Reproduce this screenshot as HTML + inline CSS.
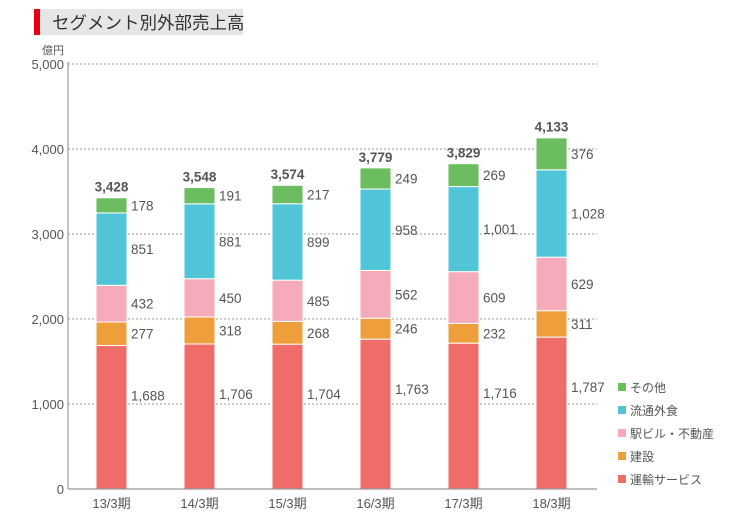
<!DOCTYPE html>
<html><head><meta charset="utf-8"><style>
body{margin:0;background:#fff;width:745px;height:514px;overflow:hidden;font-family:"Liberation Sans","Noto Sans CJK JP",sans-serif}
</style></head><body>
<svg width="745" height="514" xmlns="http://www.w3.org/2000/svg" font-family="Liberation Sans, Noto Sans CJK JP, sans-serif">
<g>
<rect x="34" y="9" width="6" height="26" fill="#e60012"/>
<rect x="40" y="9" width="203" height="26" fill="#e6e6e7"/>
<text x="52" y="29" font-size="17.5" fill="#333">セグメント別外部売上高</text>
</g>
<text x="42" y="54" font-size="11" fill="#555">億円</text>
<g id="grid"></g><g id="bars"></g><g id="legend"></g>
<line x1="68" y1="62" x2="68" y2="489" stroke="#999" stroke-width="1.2"/>
<line x1="68" y1="489" x2="597" y2="489" stroke="#999" stroke-width="1.2"/>
</svg>
<script>
const categories=["13/3期","14/3期","15/3期","16/3期","17/3期","18/3期"];
const transport=[1688,1706,1704,1763,1716,1787];
const construction=[277,318,268,246,232,311];
const realEstate=[432,450,485,562,609,629];
const retail=[851,881,899,958,1001,1028];
const other=[178,191,217,249,269,376];
const totals=[3428,3548,3574,3779,3829,4133];
const yTicks=[0,1000,2000,3000,4000,5000];
const seriesNames=["運輸サービス","建設","駅ビル・不動産","流通外食","その他"];
const series=[transport,construction,realEstate,retail,other];
const colors=["#ef6d69","#ee9f3c","#f5abba","#50c5d8","#6bbd5f"];
const NS="http://www.w3.org/2000/svg";
const y=v=>489-v*0.085;
const x=i=>96+i*88;
const bw=31;
function mk(t,a,p){const e=document.createElementNS(NS,t);for(const k in a)e.setAttribute(k,a[k]);p.appendChild(e);return e;}
const fmt=v=>v.toLocaleString("en-US");
const grid=document.getElementById("grid");
yTicks.forEach(v=>{
 if(v>0){const l=mk("line",{x1:68,x2:597,y1:y(v),y2:y(v),stroke:"#999","stroke-dasharray":"2,2"},grid);
 
 }
 const t=mk("text",{x:64,y:y(v)+5,"text-anchor":"end","font-size":13,fill:"#555"},grid);t.textContent=fmt(v);
 
 
});
const bars=document.getElementById("bars");
categories.forEach((c,i)=>{
 let acc=0;
 series.forEach((s,k)=>{
  const v=s[i];
  const r=mk("rect",{x:x(i),y:y(acc+v),width:bw,height:y(acc)-y(acc+v),fill:colors[k],stroke:"#fff","stroke-width":1},bars);
  
  
  const cy=k===0?Math.min((y(acc)+y(acc+v))/2,y(acc+v)+50):(y(acc)+y(acc+v))/2;
  const t=mk("text",{x:x(i)+bw+4,y:cy+5,"font-size":13.5,fill:"#555"},bars);t.textContent=fmt(v);
  
  
  acc+=v;
 });
 const tt=mk("text",{x:x(i)+bw/2,y:y(totals[i])-6,"text-anchor":"middle","font-size":13.5,"font-weight":"bold",fill:"#555"},bars);tt.textContent=fmt(totals[i]);
 
 
 const xl=mk("text",{x:x(i)+bw/2,y:508,"text-anchor":"middle","font-size":13,fill:"#555"},bars);xl.textContent=c;
 
 
});
const lg=document.getElementById("legend");
for(let k=4;k>=0;k--){
 const yy=388+(4-k)*23;
 const g=mk("g",{},lg);
 
 
 mk("rect",{x:618,y:yy-5,width:8,height:8,fill:colors[k]},g);
 const t=mk("text",{x:630,y:yy+4,"font-size":12,fill:"#555"},g);t.textContent=seriesNames[k];
}
</script>
</body></html>
